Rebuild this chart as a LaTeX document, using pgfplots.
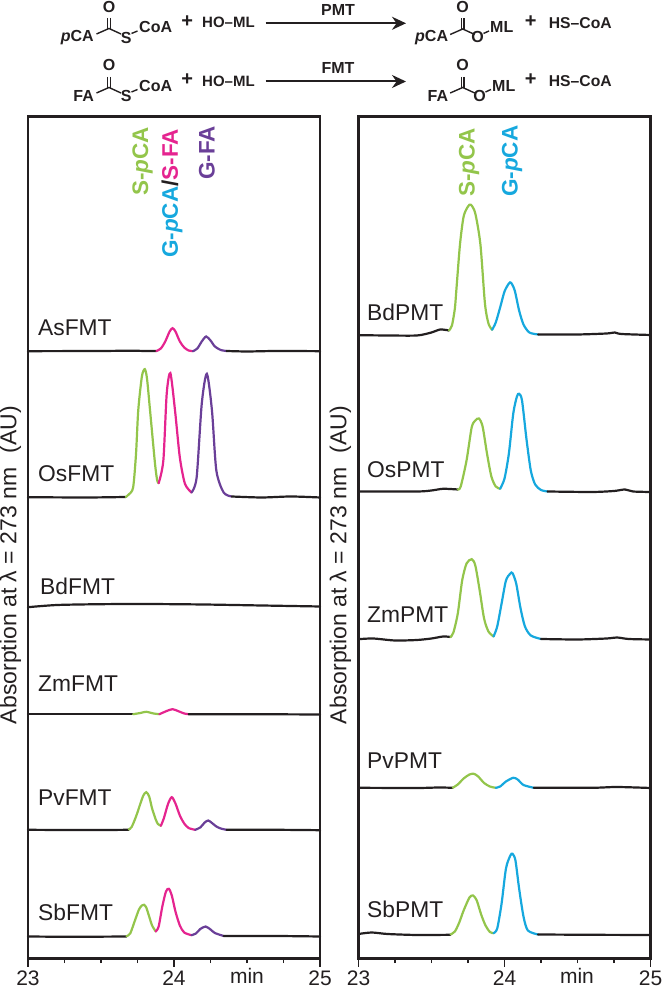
\documentclass[border=0pt]{standalone}
\usepackage{fontspec}
\setmainfont{Liberation Sans}
\usepackage{pgfplots}
\pgfplotsset{compat=1.18}
\usetikzlibrary{arrows.meta}
\definecolor{kk}{HTML}{231F20}
\definecolor{gr}{HTML}{93C54B}
\definecolor{pk}{HTML}{E5248F}
\definecolor{bl}{HTML}{16A8DE}
\definecolor{pu}{HTML}{6A3F98}
\newcommand{\fs}[1]{\fontsize{#1bp}{#1bp}\selectfont}
\newcommand{\seg}[2]{\addplot[#1,line width=2.2bp,smooth,tension=0.45,line cap=round,no marks] coordinates {#2};}
\pgfplotsset{panel/.style={
  anchor=south west, width=292bp, height=842bp, scale only axis,
  xmin=23, xmax=25, ymin=0, ymax=842,
  axis line style={kk,line width=2.2bp},
  xtick={23,24,25}, minor x tick num=3, ytick=\empty,
  tick style={kk,line width=1.6bp}, tick align=outside, xtick pos=bottom,
  major tick length=8bp, minor tick length=4.5bp,
  xticklabel style={font=\fs{21},text=kk,inner ysep=0pt,yshift=-4bp},
  /pgf/number format/assume math mode=true,
  /pgf/number format/fixed, clip=false}}
\tikzset{plab/.style={inner sep=0,text=kk,font=\fs{22.8}},
  chem/.style={inner sep=0,text=kk,font=\fs{16}\bfseries},
  bond/.style={kk,line width=1.4bp},
  trot/.style={inner sep=0,rotate=90,anchor=west,font=\fs{22.5}\bfseries}}
\newcommand{\ester}[2]{%
  \draw[bond] (#1-1.3,#2-11)--(#1-1.3,#2) (#1+1.3,#2-11)--(#1+1.3,#2);
  \draw[bond] (#1-12.5,#2+5)--(#1,#2-0.5)--(#1+12,#2+5);}
\begin{document}
\begin{tikzpicture}[x=1bp,y=1bp]
\path[use as bounding box] (0,0) rectangle (663,988);
%----- left panel
\begin{axis}[panel, at={(28bp,29.5bp)}]
% AsFMT
\seg{kk}{(23,607.3)(23.5,607.5)(23.7,607.8)(23.8,607.5)(23.88,607.4)}
\seg{pk}{(23.88,607.5)(23.91,610)(23.94,617)(23.97,627)(23.99,630.3)(24.01,627)(24.04,617)(24.07,611)(24.10,608)(24.13,607.3)}
\seg{pu}{(24.13,607.3)(24.16,610)(24.19,617)(24.22,622)(24.25,618)(24.28,612)(24.32,608.5)(24.36,607.5)}
\seg{kk}{(24.36,607.5)(24.5,607)(24.7,607.5)(25,607.3)}
% OsFMT
\seg{kk}{(23,461.3)(23.4,461)(23.67,461.5)}
\seg{gr}{(23.67,461.5)(23.69,464)(23.72,471)(23.74,505)(23.755,548)(23.78,582)(23.80,589.3)(23.815,580)(23.836,548)(23.87,494.7)(23.885,478)(23.895,475.3)}
\seg{pk}{(23.895,475.3)(23.927,498)(23.95,564.7)(23.975,585.3)(24.007,548)(24.04,501)(24.075,474.7)(24.12,466)}
\seg{pu}{(24.12,466)(24.155,481)(24.19,554.7)(24.225,584.7)(24.26,548)(24.29,488)(24.34,466)(24.395,462)}
\seg{kk}{(24.395,462)(24.6,461)(24.8,462)(25,461)}
% BdFMT
\seg{kk}{(23,351.3)(23.2,353.5)(23.5,354.3)(23.8,354.5)(24.2,354)(24.6,353)(25,352)}
% ZmFMT
\seg{kk}{(23,244.3)(23.4,244.3)(23.72,244.3)}
\seg{gr}{(23.72,244.3)(23.77,245.5)(23.81,246.7)(23.86,245)(23.90,244.3)}
\seg{pk}{(23.90,244.3)(23.95,247.5)(23.99,249.3)(24.03,247.3)(24.07,245)(24.10,244.3)}
\seg{kk}{(24.10,244.3)(24.5,244.3)(25,244)}
% PvFMT
\seg{kk}{(23,128.7)(23.4,128.4)(23.69,128.7)}
\seg{gr}{(23.69,129)(23.71,131.5)(23.74,142)(23.77,155)(23.79,163)(23.81,166.3)(23.83,162)(23.85,150)(23.875,139)(23.89,134.5)(23.91,132.7)}
\seg{pk}{(23.91,132.7)(23.93,140)(23.96,155)(23.985,161.3)(24.01,155)(24.04,143)(24.07,135)(24.10,130.5)(24.145,128.7)}
\seg{pu}{(24.145,128.7)(24.18,131)(24.21,136)(24.235,138)(24.26,135.5)(24.29,132)(24.32,130)(24.36,128.7)}
\seg{kk}{(24.36,128.7)(24.7,128.7)(25,128.3)}
% SbFMT
\seg{kk}{(23,22)(23.3,21.7)(23.675,22)}
\seg{gr}{(23.675,22.3)(23.70,25)(23.73,37)(23.76,49)(23.78,53)(23.795,53.7)(23.81,51)(23.83,42)(23.85,33)(23.875,27)}
\seg{pk}{(23.875,27)(23.895,32)(23.92,52)(23.945,67)(23.965,69.7)(23.985,63)(24.01,47)(24.04,33)(24.07,26)(24.12,23.3)}
\seg{pu}{(24.12,23.3)(24.15,25)(24.18,29.5)(24.217,32)(24.25,29)(24.28,25.5)(24.34,22.5)}
\seg{kk}{(24.34,22.5)(24.7,22.5)(25,22)}
\end{axis}
%----- right panel
\begin{axis}[panel, at={(358.5bp,29.5bp)}]
% BdPMT
\seg{kk}{(23,623.3)(23.2,623)(23.4,623)(23.5,626)(23.56,629)(23.62,628)}
\seg{gr}{(23.62,628)(23.64,633)(23.66,650)(23.67,668)(23.695,714)(23.72,742)(23.75,752)(23.77,753.7)(23.80,745)(23.835,714)(23.866,655)(23.89,635)(23.915,628.7)}
\seg{bl}{(23.915,628.7)(23.94,636)(23.97,651)(24.00,667)(24.03,675)(24.045,675.7)(24.07,668)(24.10,648)(24.13,634)(24.17,626)(24.23,624)}
\seg{kk}{(24.23,624)(24.5,624)(24.7,625)(24.755,626)(24.8,624.5)(25,623.5)}
% OsPMT
\seg{kk}{(23,467)(23.4,467)(23.5,468)(23.58,469.7)(23.68,469)}
\seg{gr}{(23.68,469)(23.70,472)(23.74,498)(23.775,531)(23.80,538)(23.825,540)(23.85,532)(23.88,505)(23.91,482)(23.94,472)(23.97,469.7)}
\seg{bl}{(23.97,469.7)(24.0,480)(24.03,505)(24.06,545)(24.085,562)(24.10,564.7)(24.12,558)(24.15,520)(24.18,488)(24.21,474)(24.25,468.5)(24.295,467)}
\seg{kk}{(24.295,467)(24.6,466.5)(24.75,467.5)(24.825,469)(24.88,467)(25,466.5)}
% ZmPMT
\seg{kk}{(23,319.3)(23.1,320)(23.25,318)(23.4,318.5)(23.5,320)(23.58,322)(23.63,321.5)}
\seg{gr}{(23.63,321.5)(23.65,326)(23.68,345)(23.71,378)(23.74,395)(23.775,399.3)(23.80,393)(23.83,368)(23.86,340)(23.89,327)(23.925,322)}
\seg{bl}{(23.925,322)(23.95,332)(23.98,355)(24.01,378)(24.04,385)(24.055,385.3)(24.08,375)(24.11,350)(24.14,332)(24.18,323)(24.25,319.5)}
\seg{kk}{(24.25,319.5)(24.5,319)(24.7,320)(24.77,321)(24.85,319.5)(25,319)}
% PvPMT
\seg{kk}{(23,170.7)(23.4,170.5)(23.55,171)(23.645,170.7)}
\seg{gr}{(23.645,170.7)(23.68,174)(23.72,180)(23.76,184)(23.79,184.7)(23.82,182)(23.86,175.5)(23.90,172)(23.94,170.7)}
\seg{bl}{(23.94,170.7)(23.97,172)(24.01,177)(24.06,180.7)(24.09,179)(24.13,173.5)(24.20,170.7)}
\seg{kk}{(24.20,170.7)(24.6,170.7)(24.77,171.5)(25,170.5)}
% SbPMT
\seg{kk}{(23,24.5)(23.09,26)(23.2,24.5)(23.4,23.5)(23.63,23.7)}
\seg{gr}{(23.63,24)(23.66,27)(23.69,36)(23.72,48)(23.76,61)(23.785,63)(23.81,58)(23.84,44)(23.87,33)(23.90,26.5)(23.925,25.3)}
\seg{bl}{(23.925,25.3)(23.95,30)(23.98,55)(24.01,90)(24.04,103)(24.055,104.7)(24.075,98)(24.10,70)(24.13,42)(24.16,28)(24.23,24)}
\seg{kk}{(24.23,24)(24.6,23.7)(25,23.5)}
\end{axis}
\begin{scope}[shift={(0,988)},y=-1bp]
%----- panel captions
\node[plab,anchor=west] at (38,328) {AsFMT};
\node[plab,anchor=west] at (38,474) {OsFMT};
\node[plab,anchor=west] at (40,586) {BdFMT};
\node[plab,anchor=west] at (38,684) {ZmFMT};
\node[plab,anchor=west] at (38,798) {PvFMT};
\node[plab,anchor=west] at (38,912) {SbFMT};
\node[plab,anchor=west] at (367,312) {BdPMT};
\node[plab,anchor=west] at (367,470) {OsPMT};
\node[plab,anchor=west] at (367,615) {ZmPMT};
\node[plab,anchor=west] at (367,761) {PvPMT};
\node[plab,anchor=west] at (367,909) {SbPMT};
\node[plab,font=\fs{21}] at (247,976) {min};
\node[plab,font=\fs{21}] at (577,976) {min};
\node[plab,rotate=90,font=\fs{23}] at (10.5,565) {Absorption at λ = 273 nm\hspace{0.35em} (AU)};
\node[plab,rotate=90,font=\fs{23}] at (340.5,565) {Absorption at λ = 273 nm\hspace{0.35em} (AU)};
%----- compound labels
\node[trot,text=gr] at (142.5,196) {S-\textit{p}CA};
\node[trot] at (172,258) {\textcolor{bl}{G-\textit{p}CA}\textcolor{kk}{/}\textcolor{pk}{S-FA}};
\node[trot,text=pu] at (207,180) {G-FA};
\node[trot,text=gr] at (469,197) {S-\textit{p}CA};
\node[trot,text=bl] at (512,197) {G-\textit{p}CA};
%----- scheme
\ester{109}{29}
\ester{462.7}{29.5}
\ester{109}{88}
\ester{462.7}{88}
\node[chem] at (109,7) {O};
\node[chem] at (462.7,7.5) {O};
\node[chem] at (109,65) {O};
\node[chem] at (462.7,65) {O};
\node[chem,anchor=east] at (94,37.5) {\textit{p}CA};
\node[chem,anchor=east] at (94,96) {FA};
\node[chem,anchor=east] at (448.3,37.5) {\textit{p}CA};
\node[chem,anchor=east] at (448.3,96) {FA};
\node[chem] at (126.3,38) {S};
\node[chem] at (126.3,96.5) {S};
\draw[bond] (131.5,33.5)--(137.5,31);
\draw[bond] (131.5,92)--(137.5,89.5);
\node[chem,anchor=west] at (139,27) {CoA};
\node[chem,anchor=west] at (139,85.7) {CoA};
\node[chem] at (477.7,37.5) {O};
\node[chem] at (479.5,96) {O};
\draw[bond] (483.5,33.5)--(489,31);
\draw[bond] (485.5,92)--(491,89.5);
\node[chem,anchor=west] at (490,27.5) {ML};
\node[chem,anchor=west] at (492,85.7) {ML};
\node[chem,font=\fs{20}\bfseries] at (187.3,21.5) {+};
\node[chem,font=\fs{20}\bfseries] at (187.3,79.5) {+};
\node[chem,font=\fs{20}\bfseries] at (530.7,21.5) {+};
\node[chem,font=\fs{20}\bfseries] at (530.7,79.5) {+};
\node[chem,anchor=west,font=\fs{15}\bfseries] at (202,22.7) {HO–ML};
\node[chem,anchor=west,font=\fs{15}\bfseries] at (202,81) {HO–ML};
\node[chem,anchor=west,font=\fs{15.7}\bfseries] at (548.7,22.7) {HS–CoA};
\node[chem,anchor=west,font=\fs{15.7}\bfseries] at (548.7,81) {HS–CoA};
\node[chem] at (338,10) {PMT};
\node[chem] at (338,67.7) {FMT};
\draw[kk,line width=2bp,-{Stealth[length=14bp,width=13bp]}] (265.7,23.3)--(406,23.3);
\draw[kk,line width=2bp,-{Stealth[length=14bp,width=13bp]}] (265.7,81.5)--(406,81.5);
\end{scope}
\end{tikzpicture}
\end{document}
